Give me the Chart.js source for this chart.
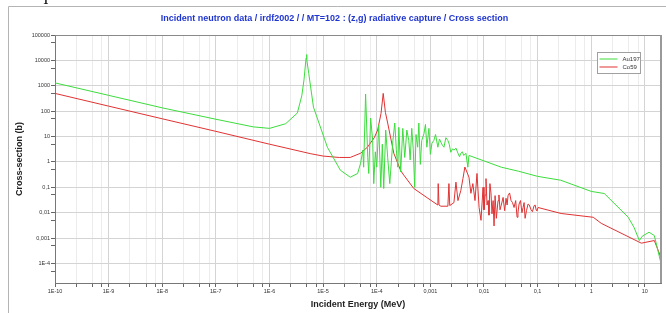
<!DOCTYPE html>
<html lang="en">
<head>
    <meta charset="UTF-8">
    <title>Incident neutron data / irdf2002</title>
    <style>
        body {
            margin: 0;
            background: #ffffff;
        }
        #wrap {
            width: 666px;
            height: 313px;
        }
    </style>
</head>
<body>
    <div id="wrap">
        <canvas id="xsChart" width="666" height="313"></canvas>
    </div>

    <script src="https://cdn.jsdelivr.net/npm/chart.js"></script>
    <script>
        // Au197 (n,g) cross section
        const auEnergy = [
            1e-10, 1e-9, 1e-8, 1e-7, 5e-7, 1e-6, 2e-6, 3.3e-6, 4.0e-6, 4.4e-6,
            4.8e-6, 4.9e-6, 5.0e-6, 5.4e-6, 6.6e-6, 1.2e-5, 2.1e-5, 3.2e-5, 4.4e-5, 5.0e-5,
            5.5e-5, 5.7e-5, 6.2e-5, 6.8e-5, 7.1e-5, 7.7e-5, 8.4e-5, 8.8e-5, 9.4e-5, 1.0e-4,
            1.09e-4, 1.19e-4, 1.27e-4, 1.35e-4, 1.47e-4, 1.6e-4, 1.75e-4, 2.0e-4, 2.17e-4, 2.32e-4,
            2.47e-4, 2.58e-4, 2.8e-4, 3.06e-4, 3.33e-4, 3.64e-4, 3.96e-4, 4.2e-4, 4.5e-4, 4.8e-4,
            5.1e-4, 5.4e-4, 5.8e-4, 6.1e-4, 6.5e-4, 6.9e-4, 7.6e-4, 8.1e-4, 8.6e-4, 9.4e-4,
            1.0e-3, 1.07e-3, 1.16e-3, 1.25e-3, 1.38e-3, 1.48e-3, 1.57e-3, 1.68e-3, 1.79e-3, 1.95e-3,
            2.12e-3, 2.25e-3, 2.4e-3, 2.6e-3, 2.75e-3, 3.0e-3, 3.27e-3, 3.5e-3, 3.7e-3, 3.95e-3,
            4.2e-3, 4.6e-3, 5.0e-3, 5.25e-3, 0.021, 0.044, 0.1, 0.27, 1.0, 1.75,
            4.9, 6.3, 7.9, 9.0, 12, 15, 20
        ];
        const auXS = [
            1300, 420, 135, 48, 24, 21, 32, 84, 400, 1700,
            12000, 17000, 11000, 3000, 145, 3.8, 0.47, 0.25, 0.35, 0.89,
            2.9, 0.62, 470, 1.5, 0.35, 53, 7, 0.14, 2.5, 0.62,
            28, 0.1, 5, 0.09, 18, 1.5, 0.14, 7, 34, 3,
            0.62, 23, 0.4, 21, 1.5, 18, 7, 1.2, 21, 3,
            0.1, 12, 3.8, 34, 0.8, 7, 13, 30, 3.8, 21,
            2, 5.5, 7, 12, 3.8, 8, 6, 4.5, 3.8, 9,
            7, 5, 2.4, 3.3, 2.9, 3.5, 2.2, 1.6, 2.2, 2.5,
            1.8, 2.2, 0.62, 1.8, 0.62, 0.43, 0.27, 0.19, 0.069, 0.057,
            6.6e-3, 2.6e-3, 8e-4, 1.2e-3, 1.7e-3, 1.26e-3, 1e-4
        ];

        // Co59 (n,g) cross section
        const coEnergy = [
            1e-10, 1e-9, 1e-8, 1e-7, 1e-6, 5.9e-6, 1e-5, 2e-5, 3.2e-5, 5e-5,
            6.7e-5, 9e-5, 1.04e-4, 1.2e-4, 1.32e-4, 1.45e-4, 1.6e-4, 2.08e-4, 2.8e-4, 3.2e-4,
            4.9e-4, 9.0e-4, 1.38e-3, 1.40e-3, 1.45e-3, 1.57e-3, 2.12e-3, 2.22e-3, 2.3e-3, 2.75e-3,
            3.0e-3, 3.27e-3, 3.7e-3, 4.05e-3, 4.4e-3, 4.8e-3, 5.25e-3, 5.7e-3, 6.2e-3, 6.8e-3,
            7.4e-3, 8.1e-3, 8.8e-3, 9.6e-3, 0.0100, 0.0105, 0.0109, 0.0114, 0.0119, 0.0124,
            0.0129, 0.0135, 0.0141, 0.0148, 0.0154, 0.0161, 0.017, 0.0183, 0.019, 0.0199,
            0.021, 0.0227, 0.0243, 0.0258, 0.027, 0.0281, 0.030, 0.032, 0.034, 0.0364,
            0.039, 0.0414, 0.043, 0.0451, 0.048, 0.051, 0.0536, 0.056, 0.0584, 0.062,
            0.0664, 0.07, 0.0756, 0.08, 0.0861, 0.09, 0.0938, 0.097, 0.102, 0.275,
            1.09, 1.54, 8.6, 15, 20
        ];
        const coXS = [
            500, 158, 50, 16, 5.0, 2.1, 1.7, 1.5, 1.5, 2.2,
            3.8, 9, 18, 80, 500, 90, 34, 2.2, 0.45, 0.3,
            0.09, 0.037, 0.02, 0.14, 0.02, 0.018, 0.018, 0.14, 0.019, 0.025,
            0.16, 0.03, 0.075, 0.22, 0.63, 0.4, 0.25, 0.058, 0.14, 0.03,
            0.35, 0.016, 0.005, 0.1, 0.013, 0.05, 0.22, 0.02, 0.03, 0.008,
            0.14, 0.06, 0.009, 0.03, 0.003, 0.047, 0.006, 0.03, 0.05, 0.013,
            0.02, 0.04, 0.012, 0.037, 0.02, 0.047, 0.06, 0.03, 0.025, 0.016,
            0.03, 0.0066, 0.01, 0.022, 0.03, 0.01, 0.016, 0.025, 0.006, 0.012,
            0.022, 0.02, 0.013, 0.011, 0.019, 0.02, 0.013, 0.012, 0.016, 0.0093,
            0.0066, 0.0038, 6.3e-4, 8e-4, 1.7e-4
        ];

        const seriesNames = ['Au197', 'Co59'];
        const seriesColors = ['#3ddc3d', '#e03232'];

        const xTickValues = [1e-10, 1e-9, 1e-8, 1e-7, 1e-6, 1e-5, 1e-4, 1e-3, 1e-2, 1e-1, 1, 10];
        const xTickLabels = ['1E-10', '1E-9', '1E-8', '1E-7', '1E-6', '1E-5', '1E-4', '0,001', '0,01', '0,1', '1', '10'];
        const yTickValues = [1e-4, 1e-3, 1e-2, 1e-1, 1, 10, 100, 1000, 10000, 100000];
        const yTickLabels = ['1E-4', '0,001', '0,01', '0,1', '1', '10', '100', '1000', '10000', '100000'];

        const FONT = "'Liberation Sans', Arial, sans-serif";

        function sameValue(a, b) {
            return Math.abs(Math.log10(a) - Math.log10(b)) < 1e-6;
        }
        function labelFor(values, labels, v) {
            const i = values.findIndex(t => sameValue(t, v));
            return i >= 0 ? labels[i] : '';
        }
        function isMajor(values, v) {
            return values.some(t => sameValue(t, v));
        }

        // minor ticks: 2.5, 5, 7.5 per decade on x, 5 per decade on y
        function xTicks(scale) {
            const out = [];
            xTickValues.forEach(d => {
                out.push({ value: d });
                [2.5, 5, 7.5].forEach(m => {
                    if (d * m <= scale.max) out.push({ value: d * m });
                });
            });
            scale.ticks = out;
        }
        function yTicks(scale) {
            const out = [];
            yTickValues.forEach(d => {
                out.push({ value: d });
                if (d * 0.5 >= scale.min) out.push({ value: d * 0.5 });
            });
            scale.ticks = out.sort((a, b) => a.value - b.value);
        }

        // panel frame, plot border and legend
        const framePlugin = {
            id: 'frame',
            beforeDraw(chart) {
                const ctx = chart.ctx;
                ctx.save();
                ctx.strokeStyle = '#b4b4b4';
                ctx.lineWidth = 1;
                ctx.beginPath();
                ctx.moveTo(8.5, 313);
                ctx.lineTo(8.5, 6.5);
                ctx.lineTo(666, 6.5);
                ctx.stroke();
                ctx.fillStyle = '#111';
                ctx.font = "16px 'Liberation Serif', serif";
                ctx.textAlign = 'center';
                ctx.textBaseline = 'alphabetic';
                ctx.fillText('I', 46, 4);
                ctx.restore();
            },
            afterDraw(chart) {
                const ctx = chart.ctx;
                const a = chart.chartArea;
                ctx.save();
                ctx.strokeStyle = '#8a8a8a';
                ctx.lineWidth = 1;
                ctx.beginPath();
                ctx.moveTo(a.left, a.top + 0.5);
                ctx.lineTo(a.right, a.top + 0.5);
                ctx.stroke();
                ctx.strokeStyle = '#999';
                ctx.lineWidth = 2;
                ctx.beginPath();
                ctx.moveTo(a.right, a.top);
                ctx.lineTo(a.right, a.bottom);
                ctx.stroke();

                // legend box
                const bx = 597.5, by = 52.5, bw = 43, bh = 21;
                ctx.fillStyle = '#ffffff';
                ctx.fillRect(bx, by, bw, bh);
                ctx.strokeStyle = '#a0a0a0';
                ctx.lineWidth = 1;
                ctx.strokeRect(bx, by, bw, bh);
                ctx.font = '6px ' + FONT;
                ctx.textBaseline = 'middle';
                ctx.textAlign = 'left';
                seriesNames.forEach((name, i) => {
                    const yy = by + 6.5 + i * 8;
                    ctx.strokeStyle = seriesColors[i];
                    ctx.beginPath();
                    ctx.moveTo(bx + 2, yy);
                    ctx.lineTo(bx + 20, yy);
                    ctx.stroke();
                    ctx.fillStyle = '#333';
                    ctx.fillText(name, bx + 25, yy);
                });
                ctx.restore();
            }
        };

        const ctx = document.getElementById('xsChart').getContext('2d');
        const xsChart = new Chart(ctx, {
            type: 'line',
            data: {
                datasets: [
                    {
                        label: seriesNames[0],
                        data: auEnergy.map((e, i) => ({ x: e, y: auXS[i] })),
                        borderColor: seriesColors[0],
                        borderWidth: 1,
                        pointRadius: 0,
                        tension: 0
                    },
                    {
                        label: seriesNames[1],
                        data: coEnergy.map((e, i) => ({ x: e, y: coXS[i] })),
                        borderColor: seriesColors[1],
                        borderWidth: 1,
                        pointRadius: 0,
                        tension: 0
                    }
                ]
            },
            options: {
                responsive: false,
                animation: false,
                layout: {
                    padding: { left: 8, right: 5, top: 6, bottom: 0 }
                },
                plugins: {
                    legend: { display: false },
                    tooltip: { enabled: false },
                    title: {
                        display: true,
                        text: 'Incident neutron data / irdf2002 / / MT=102 : (z,g) radiative capture / Cross section',
                        color: '#1f35d0',
                        font: { family: FONT, size: 9, weight: 'bold' },
                        padding: { top: 7.6, bottom: 10.6 }
                    }
                },
                scales: {
                    x: {
                        type: 'logarithmic',
                        min: 1e-10,
                        max: 20,
                        afterBuildTicks: xTicks,
                        afterFit(scale) { scale.height = 30; },
                        border: { color: '#777', width: 1 },
                        grid: {
                            color: c => c.tick && isMajor(xTickValues, c.tick.value) ? '#d4d4d4' : '#ececec',
                            tickColor: '#666',
                            tickLength: 4
                        },
                        ticks: {
                            autoSkip: false,
                            maxRotation: 0,
                            padding: 1,
                            color: '#333',
                            font: { family: FONT, size: 5.5 },
                            callback: v => labelFor(xTickValues, xTickLabels, v)
                        },
                        title: {
                            display: true,
                            text: 'Incident Energy (MeV)',
                            color: '#222',
                            font: { family: FONT, size: 9, weight: 'bold' },
                            padding: { top: 0, bottom: 3 }
                        }
                    },
                    y: {
                        type: 'logarithmic',
                        min: 1.7e-5,
                        max: 1e5,
                        afterBuildTicks: yTicks,
                        afterFit(scale) { scale.width = 47; },
                        border: { color: '#777', width: 1 },
                        grid: {
                            color: c => c.tick && isMajor(yTickValues, c.tick.value) ? '#d4d4d4' : 'rgba(0,0,0,0)',
                            tickColor: '#666',
                            tickLength: 4
                        },
                        ticks: {
                            autoSkip: false,
                            padding: 1,
                            color: '#333',
                            font: { family: FONT, size: 5.5 },
                            callback: v => labelFor(yTickValues, yTickLabels, v)
                        },
                        title: {
                            display: true,
                            text: 'Cross-section (b)',
                            color: '#222',
                            font: { family: FONT, size: 9, weight: 'bold' },
                            padding: { top: 6.6, bottom: 0 }
                        }
                    }
                }
            },
            plugins: [framePlugin]
        });
    </script>
</body>
</html>
